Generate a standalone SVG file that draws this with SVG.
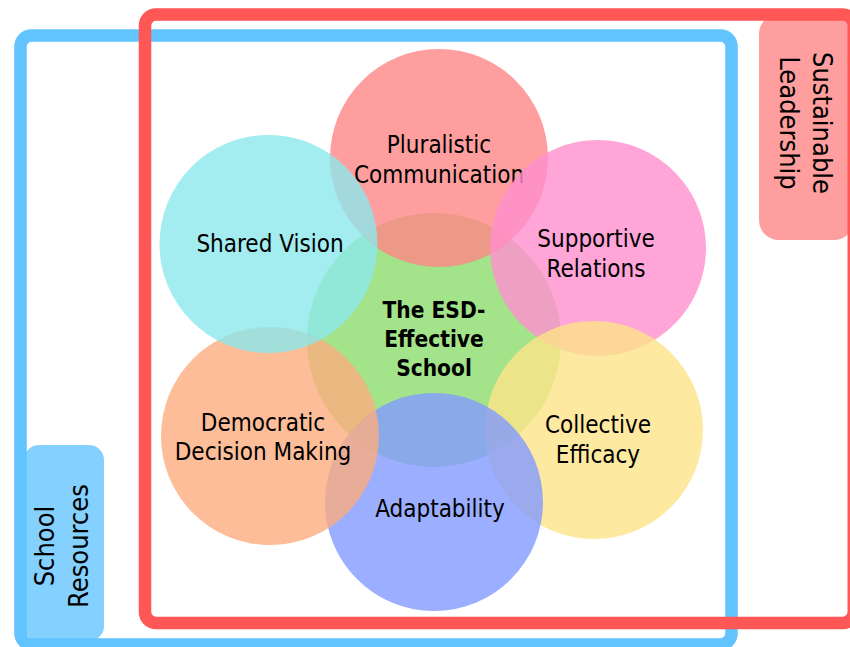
<svg xmlns="http://www.w3.org/2000/svg" width="850" height="647" viewBox="0 0 850 647">
<style>
text{font-family:"DejaVu Sans Condensed","Liberation Sans",sans-serif;font-size:24px;fill:#000;text-anchor:middle}
.b{font-weight:bold;font-size:22.5px}
.side{font-size:27px}
.c{fill-opacity:0.8}
.frame{fill:none;stroke-width:12.5}
</style>
<rect width="850" height="647" fill="#fff"/>
<g id="tab-school-resources">
<rect x="24" y="445" width="80" height="196" rx="15" fill="#84D0FE"/>
</g>
<g id="frame-school-resources">
<rect class="frame" x="20.5" y="35.5" width="711" height="609" rx="11" stroke="#61C4FF"/>
</g>
<g id="tab-sustainable-leadership">
<rect x="759" y="14" width="95" height="226" rx="20" fill="#FF9E9E"/>
</g>
<g id="frame-sustainable-leadership">
<rect class="frame" x="145" y="14.5" width="708.75" height="608.5" rx="11" stroke="#FF5656"/>
</g>
<g id="label-sustainable-leadership" transform="translate(813,123) rotate(90)">
<text class="side" x="0" y="0">Sustainable</text>
<text class="side" x="0" y="33">Leadership</text>
</g>
<g id="label-school-resources" transform="translate(53.5,546) rotate(-90)">
<text class="side" x="0" y="0">School</text>
<text class="side" x="0" y="34">Resources</text>
</g>
<g id="connectors"></g>
<g id="node-esd-school">
<circle class="c" cx="434" cy="340" r="127" fill="#8CDC6D"/>
<text class="b" x="434" y="318">The ESD-</text>
<text class="b" x="434" y="347">Effective</text>
<text class="b" x="434" y="376">School</text>
</g>
<g id="node-pluralistic-communication">
<circle class="c" cx="439" cy="158" r="109" fill="#FF8686"/>
<text x="439" y="153">Pluralistic</text>
<text x="439" y="183">Communication</text>
</g>
<g id="node-supportive-relations">
<circle class="c" cx="598" cy="248" r="108" fill="#FF8ECE"/>
<text x="596" y="247">Supportive</text>
<text x="596" y="277">Relations</text>
</g>
<g id="node-collective-efficacy">
<circle class="c" cx="594" cy="430" r="109" fill="#FCE388"/>
<text x="598" y="433">Collective</text>
<text x="598" y="463">Efficacy</text>
</g>
<g id="node-adaptability">
<circle class="c" cx="434" cy="502" r="109" fill="#829AFF"/>
<text x="440" y="517">Adaptability</text>
</g>
<g id="node-democratic-decision-making">
<circle class="c" cx="270" cy="436" r="109" fill="#FBAC7E"/>
<text x="263" y="431">Democratic</text>
<text x="263" y="460">Decision Making</text>
</g>
<g id="node-shared-vision">
<circle class="c" cx="268.5" cy="244" r="109" fill="#8CE7EB"/>
<text x="270" y="252">Shared Vision</text>
</g>
</svg>
